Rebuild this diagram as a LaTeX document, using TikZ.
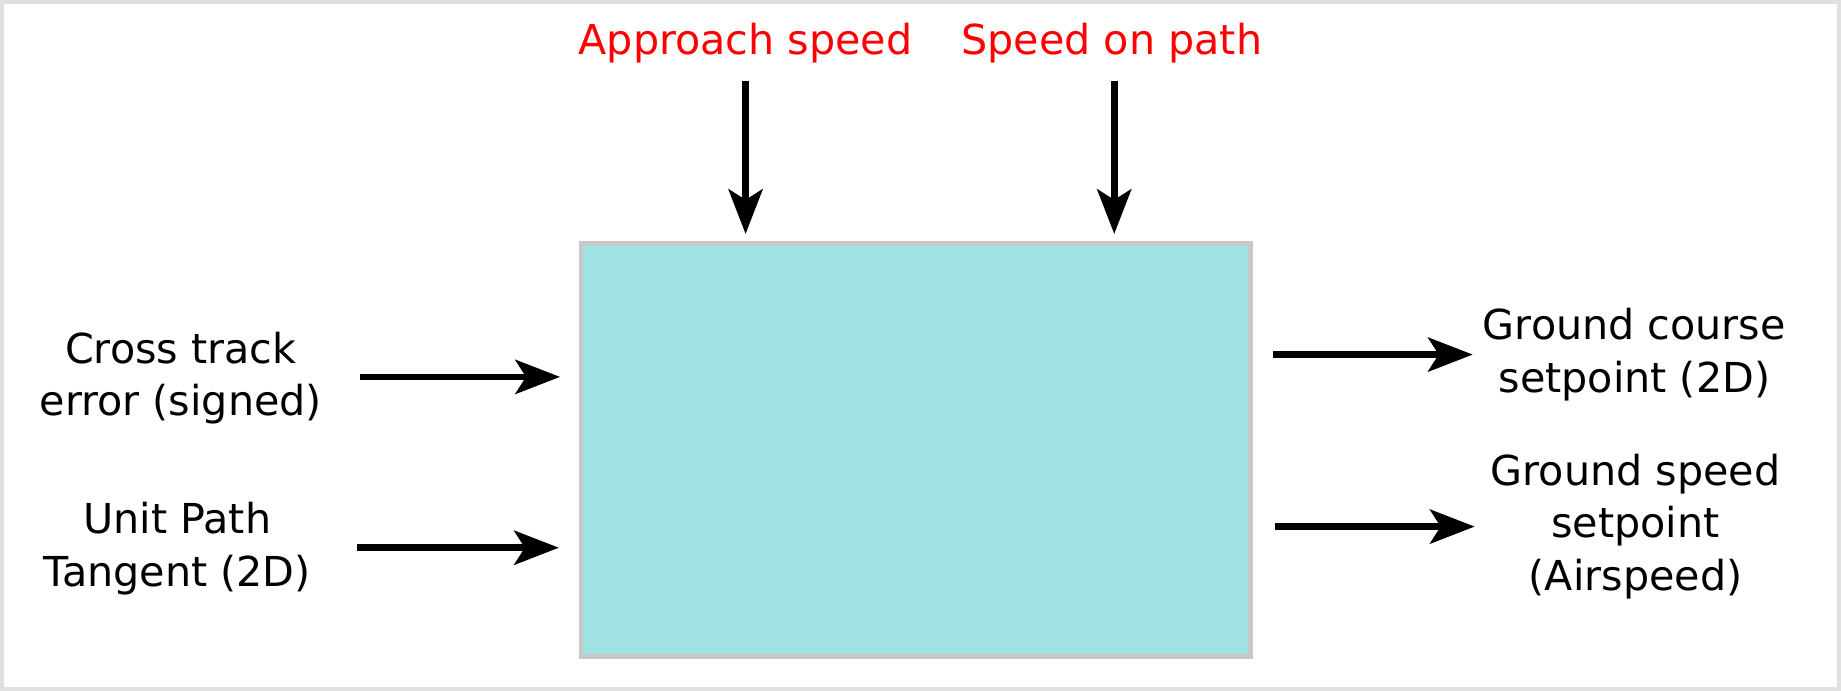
\documentclass[tikz,border=0pt]{standalone}
\usepackage{fontspec}
\setmainfont{DejaVu Sans}
\usepackage{xcolor}
\usepackage{tikz}
\usetikzlibrary{arrows.meta, positioning, calc}

\definecolor{boxfill}{RGB}{160,226,225}
\definecolor{boxline}{RGB}{200,200,200}
\definecolor{frameline}{RGB}{224,224,224}

\begin{document}
\begin{tikzpicture}[
    font=\fontsize{10}{12.8}\selectfont,
    block/.style={draw=boxline, fill=boxfill, line width=1.1pt, outer sep=0pt,
        minimum width=5.70cm, minimum height=3.52cm},
    lbl/.style={inner sep=0pt, align=center},
    inlbl/.style={lbl, red},
    arr/.style={-{Stealth[length=0.38cm, width=0.29cm, inset=0.09cm]},
        line width=1.6pt},
]

% ---- frame ----
\useasboundingbox (0,0) rectangle (15.68,5.885);
\draw[frameline, line width=1.05pt] (0.0185,0.0185) rectangle (15.6615,5.8665);

% ---- block ----
\node[block] (box) at (7.80,2.0525) {};

% ---- top inputs ----
\node[inlbl] (apr) at (6.35,5.515) {Approach speed};
\node[inlbl] (spd) at (9.47,5.515) {Speed on path};

\draw[arr, shorten <=0.14cm, shorten >=0.08cm] (apr.south) -- (apr.south |- box.north);
\draw[arr, shorten <=0.14cm, shorten >=0.08cm] ([xshift=0.02cm]spd.south) -- ([xshift=0.02cm]spd.south |- box.north);

% ---- left inputs ----
\node[lbl] (cte) at (1.54,2.665) {Cross track\\error (signed)};
\node[lbl] (upt) at (1.51,1.21) {Unit Path\\Tangent (2D)};

\draw[arr, shorten <=0.315cm, shorten >=0.18cm] ([yshift=0.01cm]cte.east) -- ([yshift=0.01cm]cte.east -| box.west);
\draw[arr, shorten <=0.385cm, shorten >=0.19cm] ([yshift=0.01cm]upt.east) -- ([yshift=0.01cm]upt.east -| box.west);

% ---- right outputs ----
\node[lbl] (gco) at (13.92,2.865) {Ground course\\setpoint (2D)};
\node[lbl] (gss) at (13.93,1.40) {Ground speed\\setpoint\\(Airspeed)};

\draw[arr, shorten <=0.19cm, shorten >=0.08cm] (gco.west -| box.east) -- (gco.west);
\draw[arr, shorten <=0.21cm, shorten >=0.13cm] (gss.west -| box.east) -- (gss.west);

\end{tikzpicture}
\end{document}
